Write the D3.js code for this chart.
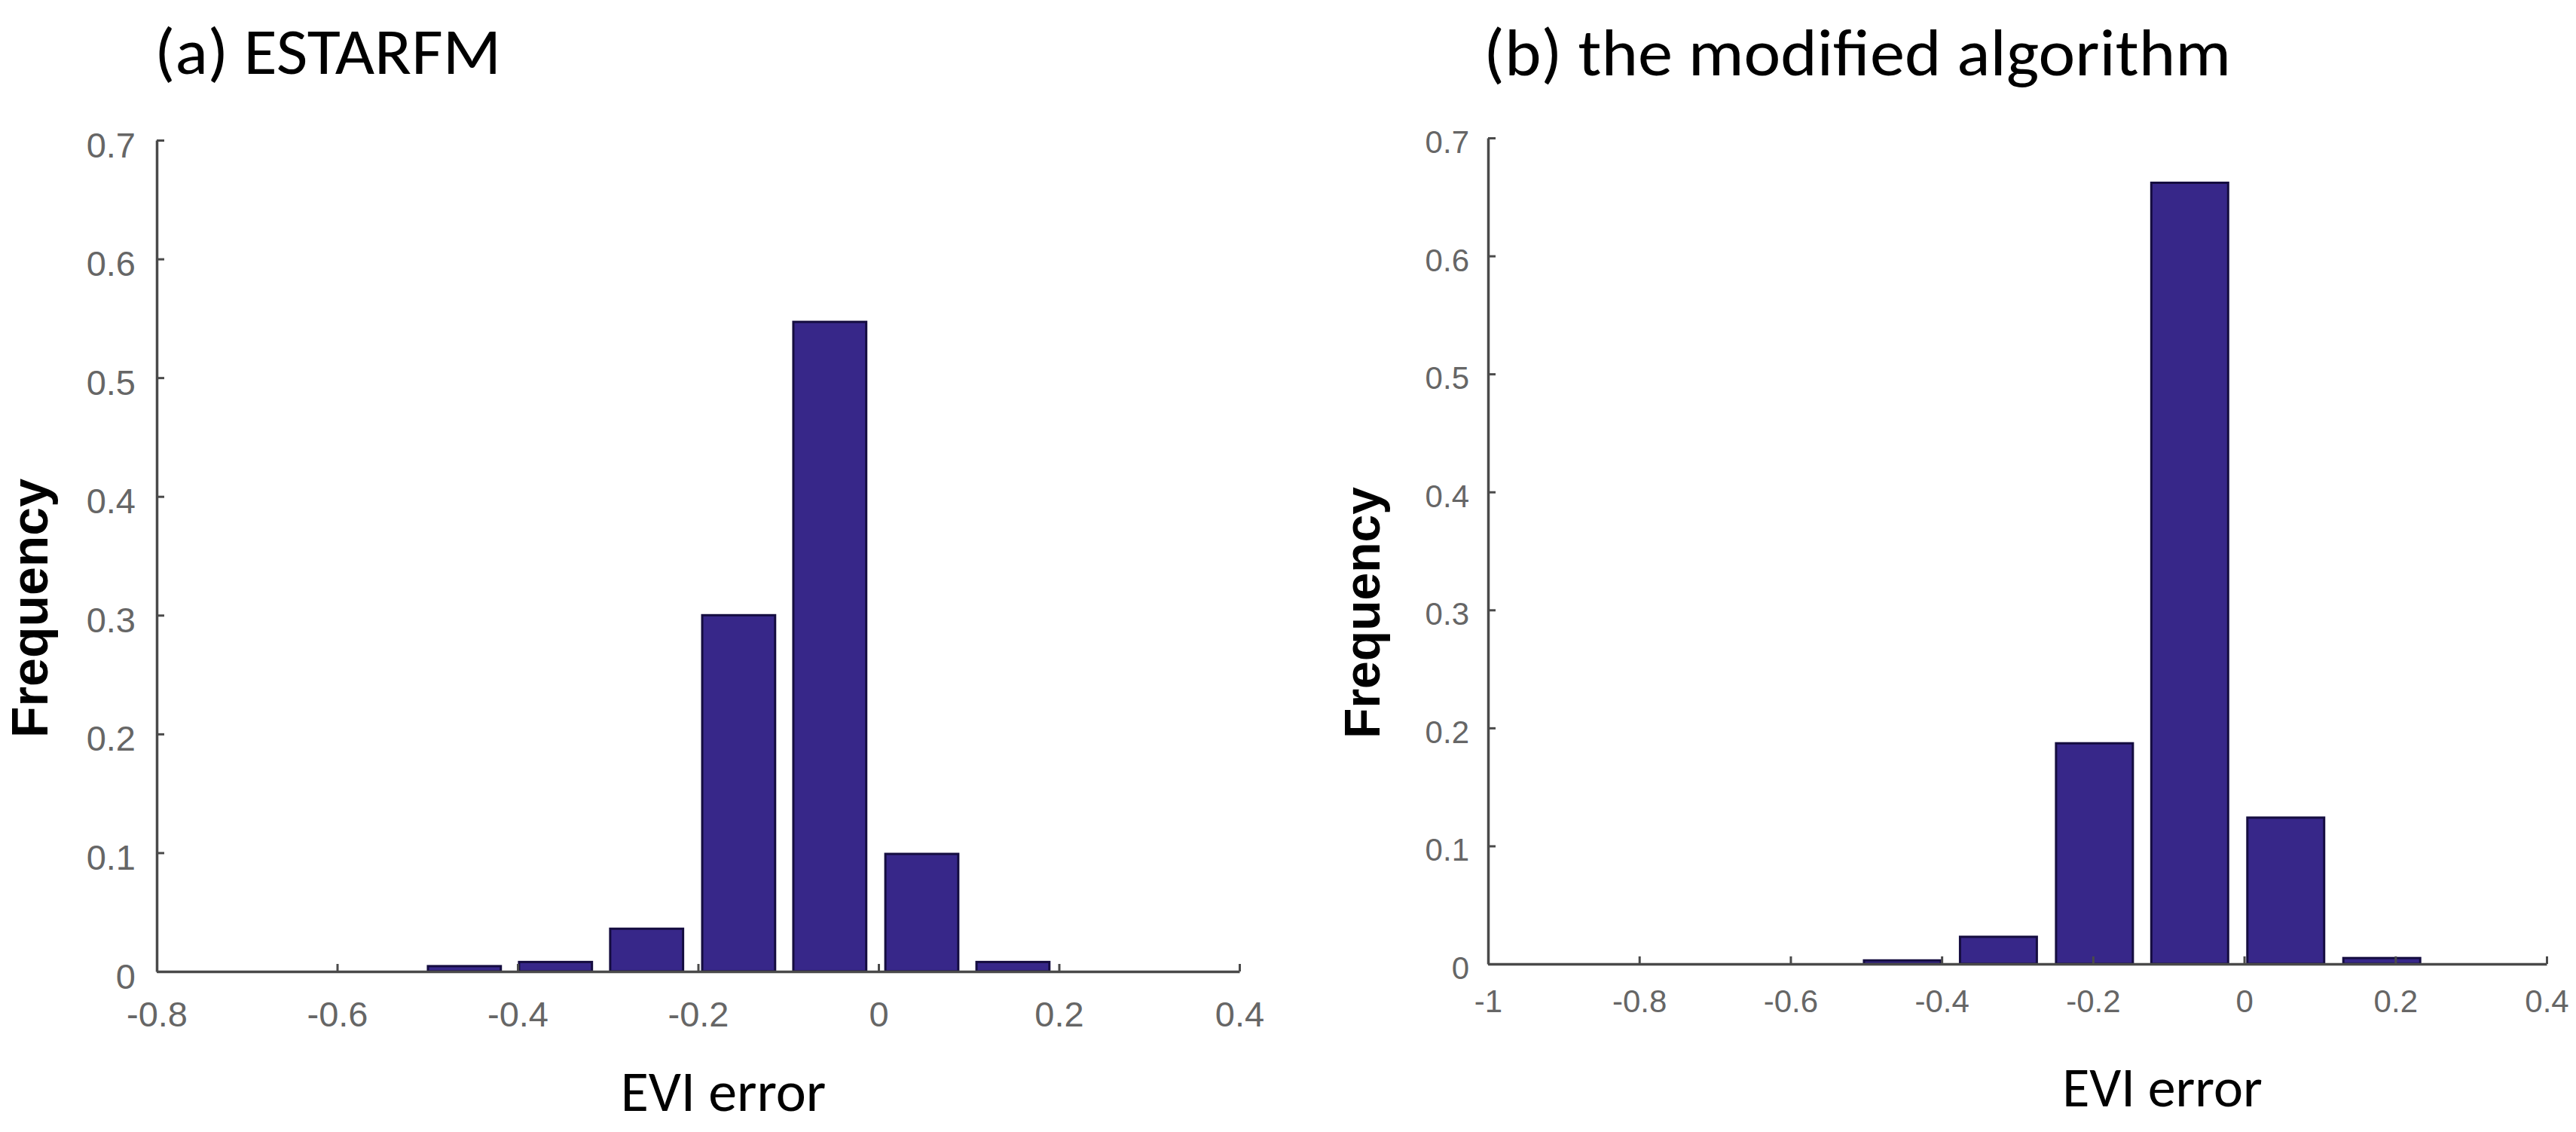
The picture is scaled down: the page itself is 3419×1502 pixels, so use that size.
<!DOCTYPE html>
<html><head><meta charset="utf-8">
<script src="https://cdn.jsdelivr.net/npm/d3@7"></script>
<style>body{margin:0;background:#fff}svg{display:block}</style>
</head><body>
<svg id="chart" width="3419" height="1502"></svg>
<script>
// ---- data ----
const leftCenters = [-0.662, -0.561, -0.459, -0.358, -0.257, -0.155, -0.054, 0.048, 0.149, 0.250];
const leftFreq    = [0, 0, 0.0045, 0.008, 0.036, 0.300, 0.547, 0.099, 0.008, 0];
const rightCenters = [-0.833, -0.706, -0.579, -0.452, -0.325, -0.198, -0.072, 0.055, 0.182, 0.309];
const rightFreq    = [0, 0, 0, 0.003, 0.023, 0.187, 0.662, 0.124, 0.005, 0];
const leftXTicks  = [-0.8, -0.6, -0.4, -0.2, 0, 0.2, 0.4];
const rightXTicks = [-1, -0.8, -0.6, -0.4, -0.2, 0, 0.2, 0.4];
const yTicks = [0, 0.1, 0.2, 0.3, 0.4, 0.5, 0.6, 0.7];
const titles = ["(a) ESTARFM", "(b) the modified algorithm"];
const xTitle = "EVI error";
const yTitle = "Frequency";

// ---- layout ----
const panels = [
  {centers: leftCenters, freq: leftFreq, xticks: leftXTicks, xdom: [-0.8, 0.4], yMax: 0.7,
   px: [208, 1645], py: [1289, 186], tickFont: 47, xPad: 40, yPad: 28, yShift: 7,
   title: titles[0], titleX: 205, titleY: 98, titleW: 460, titleFont: 86,
   xtX: 960, xtY: 1474, xtFont: 76, ytX: 63, ytY: 807, ytFont: 68},
  {centers: rightCenters, freq: rightFreq, xticks: rightXTicks, xdom: [-1, 0.4], yMax: 0.7,
   px: [1975, 3380], py: [1279, 183], tickFont: 42, xPad: 34, yPad: 25, yShift: 6,
   title: titles[1], titleX: 1969, titleY: 100, titleW: 992, titleFont: 88,
   xtX: 2870, xtY: 1468, xtFont: 74, ytX: 1831, ytY: 813, ytFont: 66}
];

const svg = d3.select("#chart");
svg.append("rect").attr("width", 3419).attr("height", 1502).attr("fill", "#fff");

const barFill = "#372789", barStroke = "#150d40", axisColor = "#4a4a4a", tickText = "#666";

panels.forEach(p => {
  const x = d3.scaleLinear().domain(p.xdom).range(p.px);
  const y = d3.scaleLinear().domain([0, p.yMax]).range(p.py);
  const g = svg.append("g");
  const binW = p.centers[1] - p.centers[0];
  const bw = binW * 0.8;

  // bars
  g.selectAll("rect.bar").data(p.centers.map((c, i) => ({c, v: p.freq[i]})))
    .join("rect").attr("class", "bar")
    .attr("x", d => x(d.c - bw / 2))
    .attr("width", d => x(d.c + bw / 2) - x(d.c - bw / 2))
    .attr("y", d => y(d.v))
    .attr("height", d => y(0) - y(d.v))
    .attr("fill", barFill)
    .attr("stroke", d => d.v > 0 ? barStroke : "#777")
    .attr("stroke-width", d => d.v > 0 ? 3 : 2);

  // y axis
  const ya = g.append("g").attr("transform", `translate(${x(p.xdom[0])},0)`)
    .call(d3.axisLeft(y).tickValues(yTicks).tickFormat(d => String(d))
      .tickSizeInner(-10).tickSizeOuter(0).tickPadding(p.yPad));
  // x axis
  const xa = g.append("g").attr("transform", `translate(0,${y(0)})`)
    .call(d3.axisBottom(x).tickValues(p.xticks).tickFormat(d => String(d))
      .tickSizeInner(-10).tickSizeOuter(0).tickPadding(p.xPad));

  [ya, xa].forEach(a => {
    a.select(".domain").attr("stroke", axisColor).attr("stroke-width", 3.5);
    a.selectAll(".tick line").attr("stroke", axisColor).attr("stroke-width", 3);
    a.selectAll(".tick text").attr("fill", tickText)
      .attr("font-family", "'Liberation Sans', Arial, sans-serif")
      .attr("font-size", p.tickFont);
  });
  ya.selectAll(".tick text").attr("dy", "0.32em").attr("transform", `translate(0,${p.yShift})`);

  // titles
  svg.append("text").attr("x", p.titleX).attr("y", p.titleY)
    .attr("font-family", "Carlito, Calibri, Lato, sans-serif")
    .attr("font-size", p.titleFont).attr("fill", "#000")
    .attr("textLength", p.titleW).attr("lengthAdjust", "spacingAndGlyphs")
    .text(p.title);

  svg.append("text").attr("x", p.xtX).attr("y", p.xtY).attr("text-anchor", "middle")
    .attr("font-family", "Carlito, Calibri, Lato, sans-serif")
    .attr("font-size", p.xtFont).attr("fill", "#000").text(xTitle);

  svg.append("text")
    .attr("transform", `translate(${p.ytX},${p.ytY}) rotate(-90)`)
    .attr("text-anchor", "middle")
    .attr("font-family", "'Liberation Sans', Arial, sans-serif")
    .attr("font-weight", "bold")
    .attr("font-size", p.ytFont).attr("fill", "#000").text(yTitle);
});
</script>
</body></html>
